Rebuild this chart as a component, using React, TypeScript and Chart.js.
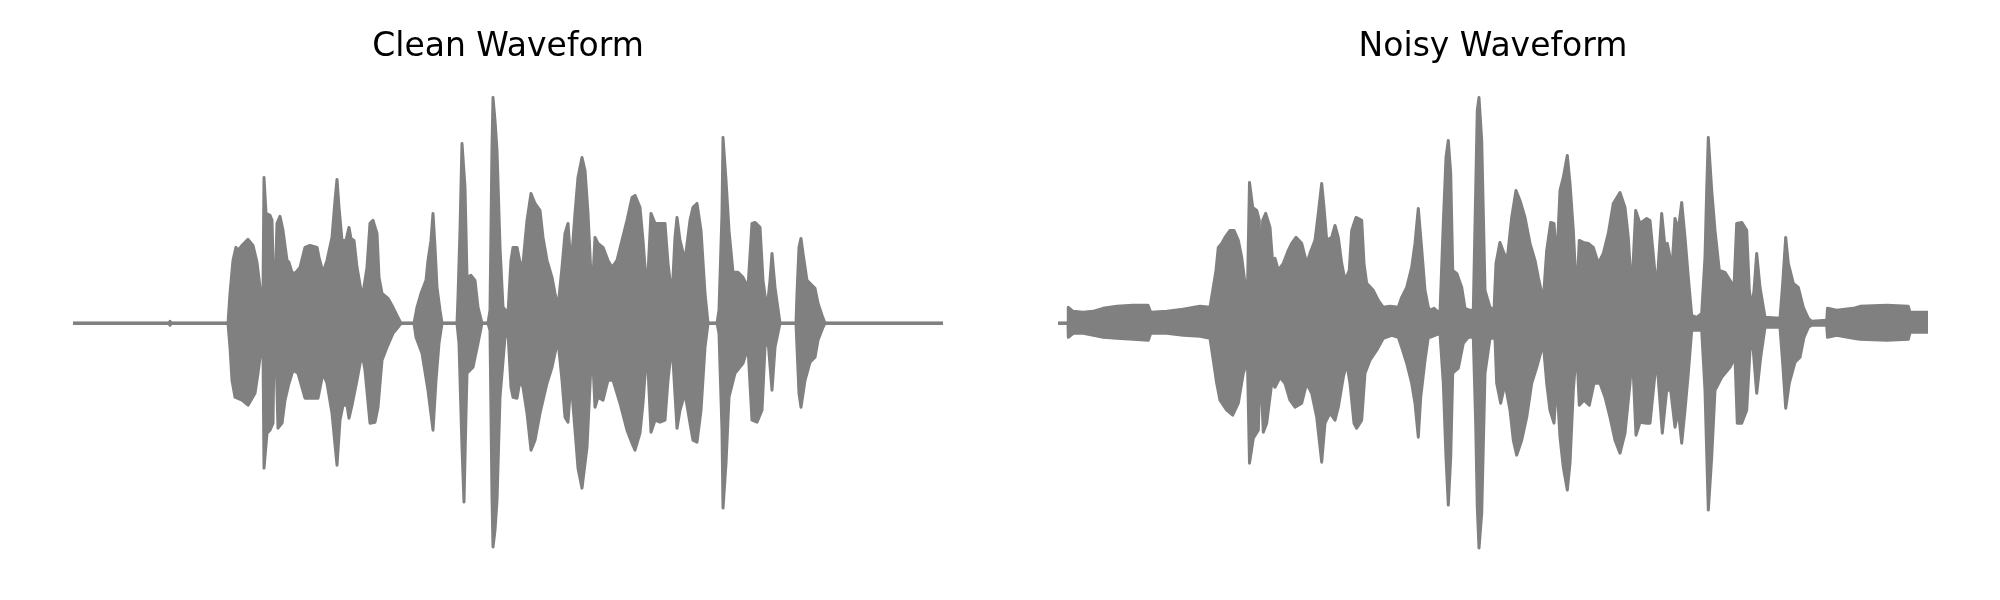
import React, { useEffect, useRef } from "react";
import { Chart, registerables } from "chart.js";

Chart.register(...registerables);

// Time axis in frames (0..870), amplitude in arbitrary units (peak ≈ 226)
const DURATION = 870;
const AMP_RANGE = 256;

const titles = ["Clean Waveform", "Noisy Waveform"];

// Clean waveform: upper envelope [time, amplitude]
const cleanUpper: number[][] = [
  [0,0],[96,0],[97,2],[98,0],[155,0],[157,30],[160,63],[163,76],[165,73],[169,78],[175,84],[180,78],[184,61],[187,36],[189,30],[190,30],[191,146],[193,110],[197,108],[199,103],[200.7,30],[202,30],[204,100],[207,107],[210,93],[214,63],[216,61],[219,51],[222,50],[227,56],[232,76],[237,78],[244,76],[246,66],[250,51],[254,63],[259,86],[262,123],[264,144],[266,116],[269,83],[273,83],[276,96],[278,85],[281,83],[284,56],[288,33],[290,30],[294,56],[297,100],[300,103],[304,90],[306,46],[309,30],[315,25],[320,16],[324,8],[328,0],[341,0],[344,16],[348,30],[353,43],[355,63],[358,83],[360,110],[362,76],[364,36],[367,13],[369,0],[384,0],[385,26],[387,93],[389,180],[392,136],[394,46],[398,48],[402,43],[405,16],[409,0],[415,0],[417,13],[419,176],[420,226],[422,203],[424,173],[427,76],[430,16],[435,10],[438,63],[440,76],[444,76],[447,61],[450,60],[454,103],[458,130],[462,120],[467,113],[470,86],[474,63],[479,46],[482,30],[485,16],[489,56],[492,90],[495,100],[498,56],[502,110],[505,146],[509,166],[512,153],[515,110],[519,26],[522,86],[525,80],[530,76],[535,63],[539,56],[544,63],[549,83],[554,103],[559,126],[562,128],[567,116],[570,83],[574,30],[578,110],[582,100],[587,100],[592,100],[595,60],[599,26],[602,86],[604,106],[607,83],[612,63],[617,103],[620,116],[624,120],[628,93],[632,30],[635,0],[644,0],[646,13],[649,110],[650,186],[653,143],[656,93],[660,51],[665,51],[670,46],[675,36],[679,100],[682,101],[687,96],[690,43],[694,13],[697,43],[699,70],[702,36],[707,0],[723,0],[724,30],[726,76],[728,85],[730,70],[734,43],[737,40],[742,35],[745,20],[749,8],[752,0],[870,0]
];

// Clean waveform: lower envelope [time, amplitude]
const cleanLower: number[][] = [
  [0,0],[96,0],[97,-2],[98,0],[155,0],[157,-24],[159,-57],[162,-74],[169,-77],[175,-82],[182,-70],[185,-50],[188,-27],[190,-24],[191,-145],[194,-110],[197,-107],[200,-100],[201,-24],[203,-30],[205,-105],[209,-100],[212,-77],[216,-60],[220,-47],[225,-50],[232,-75],[240,-75],[245,-75],[250,-50],[254,-60],[259,-90],[264,-142],[267,-97],[270,-82],[274,-82],[276,-95],[279,-82],[284,-57],[289,-30],[292,-47],[297,-100],[302,-99],[305,-84],[309,-37],[314,-24],[320,-10],[325,-4],[328,0],[341,0],[343,-14],[349,-30],[355,-67],[360,-107],[363,-57],[366,-20],[369,0],[384,0],[386,-20],[389,-124],[391,-179],[393,-90],[394,-50],[400,-44],[405,-20],[409,0],[415,0],[417,-7],[419,-174],[420,-224],[422,-207],[424,-177],[427,-74],[432,-14],[435,-10],[438,-64],[440,-74],[444,-75],[447,-57],[450,-64],[454,-90],[458,-127],[462,-117],[467,-90],[474,-60],[479,-44],[482,-30],[485,-17],[489,-57],[492,-94],[495,-99],[498,-57],[502,-107],[505,-145],[509,-165],[514,-124],[519,-20],[522,-84],[525,-74],[530,-77],[535,-57],[540,-57],[547,-80],[554,-107],[559,-120],[562,-127],[567,-110],[570,-80],[574,-24],[578,-109],[582,-97],[587,-99],[592,-97],[595,-57],[599,-20],[604,-105],[607,-87],[612,-70],[617,-100],[620,-117],[624,-119],[628,-87],[632,-24],[635,0],[644,0],[646,-10],[649,-107],[650,-185],[653,-140],[656,-74],[662,-50],[670,-40],[675,-24],[679,-97],[684,-99],[689,-87],[692,-24],[695,-17],[699,-67],[702,-24],[707,0],[723,0],[724,-24],[726,-70],[728,-84],[732,-57],[737,-39],[742,-34],[745,-17],[750,-4],[752,0],[870,0]
];

// Noisy waveform: upper envelope [time, amplitude]
const noisyUpper: number[][] = [
  [0,0],[10,0],[10.3,16],[15,12],[25,11],[35,12],[45,15],[59,17],[75,18],[90,18],[92.7,11],[109,12],[125,14],[142,17],[152,16],[155.3,36],[158,53],[160.3,76],[163.7,80],[167,86],[172,93],[176,93],[180.3,83],[183.7,66],[187,40],[189.5,35],[191.5,141],[194.7,116],[198.7,113],[201.3,103],[202.3,33],[204.7,103],[207.7,110],[212,96],[214.7,60],[217,65],[220.3,53],[225.3,60],[230.3,73],[233.7,80],[238,86],[243.7,80],[248.7,60],[252,70],[257,83],[260.3,110],[263.7,140],[266,116],[268.7,83],[273.7,86],[277,98],[280.3,86],[283.7,60],[287,43],[291.3,53],[293.7,93],[298,106],[303.7,103],[306,60],[308.7,40],[315.3,33],[320.3,23],[325.3,16],[332,17],[340.3,16],[343.7,26],[348.7,36],[353.7,56],[357,80],[360.3,115],[363,83],[367,33],[370.3,16],[372,13],[376,15],[382,10],[385.3,100],[388,166],[390.3,183],[392.7,150],[394.7,53],[398.7,50],[403.7,36],[407,15],[412,13],[415.3,13],[417.7,133],[419.3,213],[421,226],[423.7,183],[427,33],[432,16],[436,13],[438,60],[442,81],[446,70],[449.3,65],[453.7,106],[458,133],[462,123],[467,106],[472,80],[477,63],[480.3,46],[485.3,23],[488.7,73],[492.7,101],[496,100],[498.7,60],[502,133],[505.3,146],[509.3,168],[512,140],[515.3,93],[518.7,26],[521.3,83],[525.3,81],[530.3,80],[535.3,76],[540.3,60],[545.3,70],[550.3,90],[555.3,120],[562,131],[567,116],[570.3,86],[573.7,30],[577.7,113],[582,100],[588.7,105],[592,103],[598.7,33],[603.7,110],[607,76],[609.3,80],[612,66],[614.7,66],[617,105],[620.3,93],[623.7,121],[627,86],[630.3,46],[633.7,8],[638.7,6],[643.7,10],[647,66],[648.7,133],[650.3,186],[653.7,133],[657,93],[661.3,53],[667,51],[672,43],[676,36],[678.7,100],[683.7,101],[688.7,93],[691.3,33],[693.7,16],[696,33],[698.7,70],[702,36],[707,6],[722,5],[724.7,40],[727.7,86],[730.3,60],[735.3,40],[740.3,36],[745.3,16],[750.3,5],[753.7,2],[768.7,3],[769.5,15],[778.7,13],[795.3,15],[802,17],[828.7,18],[850.3,17],[852,11],[870,11]
];

// Noisy waveform: lower envelope [time, amplitude]
const noisyLower: number[][] = [
  [0,0],[10,0],[10.3,-14],[15.3,-10],[25.3,-10],[35.3,-12],[45.3,-14],[58.7,-15],[75.3,-16],[90.3,-17],[92.7,-10],[108.7,-10],[125.3,-12],[142,-13],[152,-15],[155.3,-37],[158.7,-60],[162,-77],[168.7,-87],[174.7,-92],[180.3,-80],[185.3,-50],[188.7,-40],[189.5,-40],[191.5,-140],[195.3,-115],[200.3,-107],[202.3,-37],[205.3,-109],[208.7,-100],[213.7,-60],[217,-64],[222,-54],[227,-60],[232,-77],[237,-84],[243.7,-80],[248.7,-60],[253.7,-70],[258.7,-94],[263.7,-139],[267,-100],[272,-90],[277,-97],[280.3,-84],[285.3,-54],[288.7,-40],[292,-60],[296,-100],[298.7,-105],[303.7,-97],[307,-50],[312,-37],[318.7,-27],[325.3,-15],[333.7,-12],[340.3,-14],[343.7,-24],[348.7,-40],[353.7,-60],[357,-80],[360.3,-114],[362.7,-74],[367,-37],[370.3,-14],[372,-14],[382,-10],[385.3,-60],[388,-134],[390.3,-182],[392.7,-134],[394.7,-50],[400.3,-45],[405.3,-20],[410.3,-14],[415.3,-14],[417.7,-100],[419.3,-184],[421,-225],[423.7,-190],[427,-50],[432,-15],[437,-15],[438.7,-60],[442.7,-80],[447,-60],[452,-87],[455.3,-117],[458.7,-132],[463.7,-117],[468.7,-94],[473.7,-60],[478.7,-44],[485.3,-20],[488.7,-60],[492,-87],[496,-100],[498.7,-57],[502,-114],[505.3,-144],[509.3,-167],[512,-140],[515.3,-67],[518.7,-24],[521.3,-82],[526,-77],[531.3,-82],[536,-60],[542,-60],[547,-74],[552,-94],[557,-117],[562,-130],[567,-110],[572,-60],[574.3,-27],[578,-112],[582,-99],[588.7,-100],[592,-100],[598.7,-34],[604.3,-110],[608.7,-67],[612.7,-67],[617,-104],[620.3,-87],[623.7,-120],[627,-87],[630.3,-50],[633.7,-7],[643.7,-7],[647,-67],[650.3,-187],[653.7,-134],[657,-67],[663.7,-54],[672,-44],[677,-34],[679.3,-100],[683.7,-100],[688.7,-87],[692,-27],[694.7,-20],[698.7,-70],[702.7,-34],[707,-4],[722,-4],[724.7,-40],[727.7,-85],[731.3,-60],[737,-39],[742,-34],[746,-14],[750.3,-4],[753.7,-2],[768.7,-2],[769.5,-14],[778.7,-12],[795.3,-15],[802,-16],[828.7,-17],[850.3,-16],[852,-9],[870,-9]
];

// Zero-amplitude baseline (start and end of recording)
const baseline: number[][] = [[0, 0], [DURATION, 0]];

const GRAY = "#808080";

function toDataset(pairs: number[][], fill: boolean) {
  return {
    data: pairs.map((p) => ({ x: p[0], y: p[1] })),
    borderColor: GRAY,
    backgroundColor: GRAY,
    borderWidth: 3,
    fill: fill ? ("origin" as const) : false,
    pointRadius: 0,
    tension: 0,
    borderCapStyle: "round" as const,
    borderJoinStyle: "round" as const,
  };
}

type PanelProps = {
  title: string;
  upper: number[][];
  lower: number[][];
  left: number;
  padLeft: number;
  padRight: number;
};

function Panel({ title, upper, lower, left, padLeft, padRight }: PanelProps) {
  const ref = useRef<HTMLCanvasElement | null>(null);
  useEffect(() => {
    if (!ref.current) return;
    const chart = new Chart(ref.current, {
      type: "line",
      data: {
        datasets: [toDataset(upper, true), toDataset(lower, true), toDataset(baseline, false)],
      },
      options: {
        animation: false,
        responsive: false,
        devicePixelRatio: 1,
        layout: { padding: { left: padLeft, right: padRight, top: 28, bottom: 21 } },
        scales: {
          x: { type: "linear", min: 0, max: DURATION, display: false },
          y: { min: -AMP_RANGE, max: AMP_RANGE, display: false },
        },
        plugins: {
          legend: { display: false },
          tooltip: { enabled: false },
          title: {
            display: true,
            text: title,
            color: "#000000",
            font: { family: "'DejaVu Sans'", size: 33, weight: "normal" },
            padding: { top: 0, bottom: 0 },
          },
        },
      },
    });
    return () => chart.destroy();
  }, []);
  return (
    <canvas
      ref={ref}
      width={1000}
      height={600}
      style={{ position: "absolute", left, top: 0, width: 1000, height: 600 }}
    />
  );
}

export default function App() {
  return (
    <div style={{ position: "absolute", left: 0, top: 0, width: 2000, height: 600, background: "#ffffff" }}>
      <Panel title={titles[0]} upper={cleanUpper} lower={cleanLower} left={0} padLeft={73} padRight={57} />
      <Panel title={titles[1]} upper={noisyUpper} lower={noisyLower} left={1000} padLeft={58} padRight={72} />
    </div>
  );
}
